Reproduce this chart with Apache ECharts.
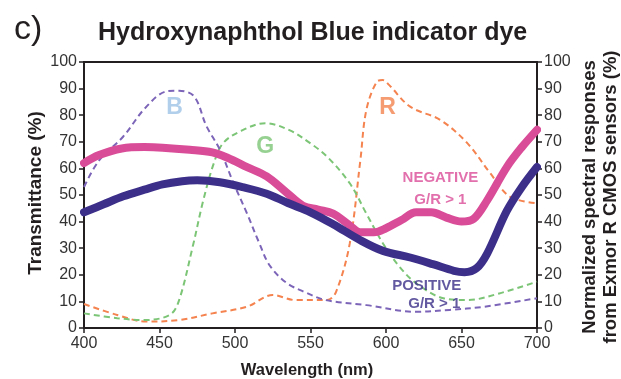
<!DOCTYPE html>
<html><head><meta charset="utf-8">
<script src="https://cdn.jsdelivr.net/npm/echarts@6/dist/echarts.min.js"></script>
<style>html,body{margin:0;padding:0;background:#fff}#c{width:621px;height:379px}</style>
</head><body><div id="c"></div>
<script>
// Transmittance curves (thick)
const negWl  = [400,410,425,440,452,470,485,495,508,521,534,545,555,565,575,583,592,600,610,620,630,640,650,658,667,680,690,700];
const negVal = [62,65,67.5,68,67.8,67,66,64,60.5,57,51,46,44.5,43,39,36,36,37.5,40.5,43.5,43.5,41.5,40,41,48,60.5,68,74.5];
const posWl  = [400,413,426,440,452,465,475,490,505,521,535,550,565,583,598,616,631,645,652,660,667,680,690,700];
const posVal = [43.5,46.5,49.5,52,54,55.2,55.5,54.8,53,50.5,47,43.5,39,33,29,26.5,24,21.5,21,22.5,28,44,53,60.5];
// Sensor spectral responses (dashed)
const bWl  = [400,410,426,441,455,463,473,481,490,499,508,516,523,534,545,560,587,620,642,665,700];
const bVal = [53,63,72,83,89,89.2,87,76,67,54.5,43,32,23.5,17,13.8,10.5,8.6,6.1,6.8,8,11.2];
const gWl  = [400,422,440,457,463,472,479,486,492,503,520,536,550,561,576,587,598,609,620,638,654,675,700];
const gVal = [5.5,3.7,3,5,10.5,30.6,48,62,69.4,73.8,77,74.4,69.4,64.4,54.4,43,31.8,23,16.8,11.2,10.5,13,17.4];
const rWl  = [400,422,441,463,485,508,525,540,561,567,576,583,587,594,598,602,616,636,654,669,682,700];
const rVal = [9,4.9,2.4,3,5.5,8,12.4,10.5,10.5,13.7,31.8,63,82,92.6,93.2,91.4,83.2,78.2,69.4,58.2,49.4,46.9];
// Axis ticks
const xTicks = [400,450,500,550,600,650,700];
const yTicks = [0,10,20,30,40,50,60,70,80,90,100];
// Annotations
const annText = ['B','G','R','NEGATIVE','G/R > 1','POSITIVE','G/R > 1'];
const annX    = [460,520,601,636,636,627,632];
const annY    = [82.7,68,82.7,56.4,48.1,15.8,9];
const annColor= ['#9dc3e6','#7cc576','#f4834f','#d94c97','#d94c97','#3b2f8a','#3b2f8a'];
const annSize = [23,23,23,15,15,15,15];

const zip = (a,b)=>a.map((v,i)=>[v,b[i]]);
const FONT = 'Liberation Sans, Arial, sans-serif';
const chart = echarts.init(document.getElementById('c'));
const axisCommon = {
  type:'value',min:0,max:100,interval:10,
  axisLine:{show:true,lineStyle:{color:'#231f20',width:2}},
  axisTick:{show:true,inside:false,length:5,lineStyle:{color:'#231f20',width:1.5}},
  splitLine:{show:false},
  axisLabel:{color:'#333',fontSize:16,fontFamily:FONT,margin:7,formatter:v=>yTicks.includes(v)?String(v):''}
};
const dashed = (name,wl,val,color)=>({type:'line',name,yAxisIndex:1,data:zip(wl,val),smooth:0.35,symbol:'none',
  lineStyle:{color,width:2,type:[6,4]},z:2});
const thick = (name,wl,val,color)=>({type:'line',name,data:zip(wl,val),smooth:0.35,symbol:'none',
  lineStyle:{color,width:8,cap:'round',join:'round'},z:3});
const nameStyle = {fill:'#231f20',fontSize:15,fontWeight:'bold',fontFamily:FONT,align:'center',verticalAlign:'middle',lineHeight:21};
chart.setOption({
  animation:false,
  title:[
    {text:'c)',left:9,top:8,textStyle:{fontSize:34,fontWeight:'normal',color:'#231f20',fontFamily:FONT}},
    {text:'Hydroxynaphthol Blue indicator dye',left:93,top:16,textStyle:{fontSize:25,fontWeight:'bold',color:'#231f20',fontFamily:FONT}}
  ],
  grid:{left:84,right:84,top:62,bottom:51,show:true,borderColor:'#231f20',borderWidth:2,outerBoundsMode:'none',containLabel:false},
  xAxis:{type:'value',min:400,max:700,interval:50,
    axisLine:{show:true,lineStyle:{color:'#231f20',width:2}},
    axisTick:{show:true,length:5,lineStyle:{color:'#231f20',width:1.5}},
    splitLine:{show:false},
    axisLabel:{color:'#333',fontSize:16,fontFamily:FONT,margin:8,formatter:v=>xTicks.includes(v)?String(v):''}},
  yAxis:[
    Object.assign({},axisCommon,{position:'left'}),
    Object.assign({},axisCommon,{position:'right'})
  ],
  graphic:[
    {type:'text',x:307,y:370,style:Object.assign({},nameStyle,{text:'Wavelength (nm)',fontSize:16.5})},
    {type:'text',x:36,y:193,rotation:Math.PI/2,style:Object.assign({},nameStyle,{text:'Transmittance (%)',fontSize:19})},
    {type:'text',x:600,y:197,rotation:Math.PI/2,style:Object.assign({},nameStyle,{text:'Normalized spectral responses\nfrom Exmor R CMOS sensors (%)',fontSize:18.5})}
  ],
  series:[
    dashed('R',rWl,rVal,'#f4834f'),
    dashed('G',gWl,gVal,'#7cc576'),
    dashed('B',bWl,bVal,'#7c65b8'),
    thick('Negative',negWl,negVal,'#d94c97'),
    thick('Positive',posWl,posVal,'#3b2f8a'),
    {type:'scatter',symbolSize:0,z:5,silent:true,
      data:annText.map((t,i)=>({value:[annX[i],annY[i]],label:{show:true,position:'inside',formatter:t,
        color:annColor[i],fontSize:annSize[i],fontWeight:'bold',fontFamily:FONT}}))}
  ]
});
</script></body></html>
